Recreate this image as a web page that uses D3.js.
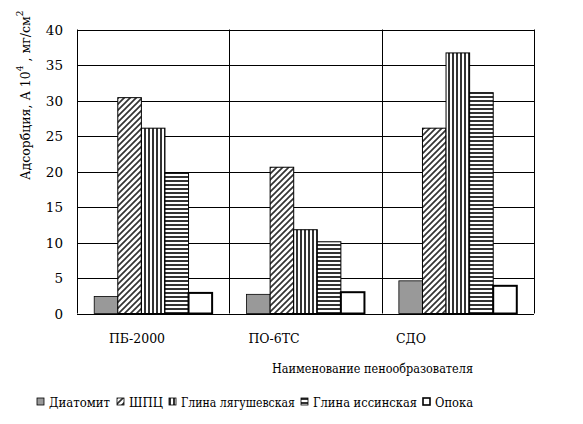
<!DOCTYPE html>
<html>
<head>
<meta charset="utf-8">
<script src="https://cdn.jsdelivr.net/npm/d3@7"></script>
<style>
body { margin: 0; background: #fff; }
</style>
</head>
<body>
<svg id="svg1" width="583" height="424"></svg>
<script>
var categories = ["ПБ-2000", "ПО-6ТС", "СДО"];
var series = ["Диатомит", "ШПЦ", "Глина лягушевская", "Глина иссинская", "Опока"];
var diatomit = [2.4, 2.7, 4.6];
var shpc = [30.4, 20.6, 26.1];
var glinaL = [26.1, 11.8, 36.7];
var glinaI = [19.8, 10.1, 31.1];
var opoka = [2.9, 3.0, 3.9];
var yTicks = [0, 5, 10, 15, 20, 25, 30, 35, 40];

var values = [diatomit, shpc, glinaL, glinaI, opoka];

var svg = d3.select('#svg1');
var plotLeft = 77, plotRight = 534, plotTop = 29.5, plotBottom = 313.5;
var serif = "'DejaVu Serif', serif";

var defs = svg.append('defs');
// diagonal hatch
var p1 = defs.append('pattern').attr('id', 'diag').attr('patternUnits', 'userSpaceOnUse')
    .attr('width', 6).attr('height', 6);
p1.append('rect').attr('width', 6).attr('height', 6).attr('fill', '#fff');
p1.append('path').attr('d', 'M-1,1 L1,-1 M0,6 L6,0 M5,7 L7,5').attr('stroke', '#333').attr('stroke-width', 1.7);
// vertical stripes
var p2 = defs.append('pattern').attr('id', 'vert').attr('patternUnits', 'userSpaceOnUse')
    .attr('width', 4).attr('height', 4);
p2.append('rect').attr('width', 4).attr('height', 4).attr('fill', '#fff');
p2.append('rect').attr('x', 0).attr('width', 2).attr('height', 4).attr('fill', '#333');
// horizontal stripes
var p3 = defs.append('pattern').attr('id', 'horiz').attr('patternUnits', 'userSpaceOnUse')
    .attr('width', 4).attr('height', 4);
p3.append('rect').attr('width', 4).attr('height', 4).attr('fill', '#fff');
p3.append('rect').attr('y', 0).attr('width', 4).attr('height', 2).attr('fill', '#333');

var fills = ['#999999', 'url(#diag)', 'url(#vert)', 'url(#horiz)', '#ffffff'];
var strokeW = [0.8, 1, 1, 1, 2];

var scaleX = d3.scaleBand().domain(categories).range([plotLeft, plotRight]);
var scaleSeries = d3.scaleBand().domain(series).range([0, scaleX.bandwidth()]).paddingOuter(0.73).paddingInner(0);
var scaleY = d3.scaleLinear().domain([0, 40]).range([plotBottom, plotTop]);
var labelX = d3.scalePoint().domain(categories).range([137, 411]);

// gridlines
svg.append('g').selectAll('line').data(yTicks).enter().append('line')
    .attr('x1', plotLeft).attr('x2', plotRight)
    .attr('y1', function(d){ return Math.round(scaleY(d)) + 0.5; })
    .attr('y2', function(d){ return Math.round(scaleY(d)) + 0.5; })
    .attr('stroke', '#000').attr('stroke-width', 1);

// vertical separators
svg.append('g').selectAll('line').data(categories).enter().append('line')
    .attr('x1', function(d){ return Math.round(scaleX(d)) + 0.5; })
    .attr('x2', function(d){ return Math.round(scaleX(d)) + 0.5; })
    .attr('y1', plotTop).attr('y2', plotBottom)
    .attr('stroke', '#000');
svg.append('line').attr('x1', plotRight + 0.5).attr('x2', plotRight + 0.5).attr('y1', plotTop).attr('y2', plotBottom).attr('stroke', '#000');

// bars
series.forEach(function(s, i){
    svg.append('g').selectAll('rect').data(values[i]).enter().append('rect')
        .attr('x', function(d, j){ return scaleX(categories[j]) + scaleSeries(s); })
        .attr('width', scaleSeries.bandwidth())
        .attr('y', function(d){ return scaleY(d); })
        .attr('height', function(d){ return scaleY(0) - scaleY(d); })
        .attr('fill', fills[i])
        .attr('stroke', '#000')
        .attr('stroke-width', strokeW[i]);
});

// y axis ticks
svg.append('g').selectAll('text').data(yTicks).enter().append('text')
    .text(function(d){ return d; })
    .attr('x', 63)
    .attr('y', function(d){ return scaleY(d) + 5; })
    .attr('font-family', serif)
    .style('text-anchor', 'end')
    .style('font-size', '13.5px');

// category labels
svg.append('g').selectAll('text').data(categories).enter().append('text')
    .text(function(d){ return d; })
    .attr('x', function(d){ return labelX(d); })
    .attr('y', 343)
    .attr('font-family', serif)
    .style('text-anchor', 'middle')
    .style('font-size', '12.5px');

svg.append('text')
    .text('Наименование пенообразователя')
    .attr('x', 272).attr('y', 373)
    .attr('font-family', serif)
    .attr('textLength', 201)
    .attr('lengthAdjust', 'spacingAndGlyphs')
    .style('font-size', '13px');

// y title
var yt = svg.append('text')
    .attr('transform', 'translate(30,180)rotate(-90)')
    .attr('font-family', serif)
    .style('font-size', '12.5px');
yt.append('tspan').text('Адсорбция, А 10');
yt.append('tspan').text('4').attr('dy', -7).style('font-size', '9px');
yt.append('tspan').text(' , мг/см').attr('dy', 7);
yt.append('tspan').text('2').attr('dy', -7).style('font-size', '9px');

// legend
var legX = [37, 117, 169, 301, 423];
var legW = [61, 34, 114, 104, 38];
var leg = svg.append('g').selectAll('g').data(series).enter().append('g')
    .attr('transform', function(d, i){ return 'translate(' + legX[i] + ',398)'; });
leg.append('rect').attr('width', 7).attr('height', 7)
    .attr('fill', function(d, i){ return fills[i]; })
    .attr('stroke', '#000')
    .attr('stroke-width', function(d, i){ return i == 4 ? 1.6 : 0.8; });
leg.append('text').text(function(d){ return d; })
    .attr('x', 12).attr('y', 8.5)
    .attr('font-family', serif)
    .attr('textLength', function(d, i){ return legW[i]; })
    .attr('lengthAdjust', 'spacingAndGlyphs')
    .style('font-size', '13px');
</script>
</body>
</html>
